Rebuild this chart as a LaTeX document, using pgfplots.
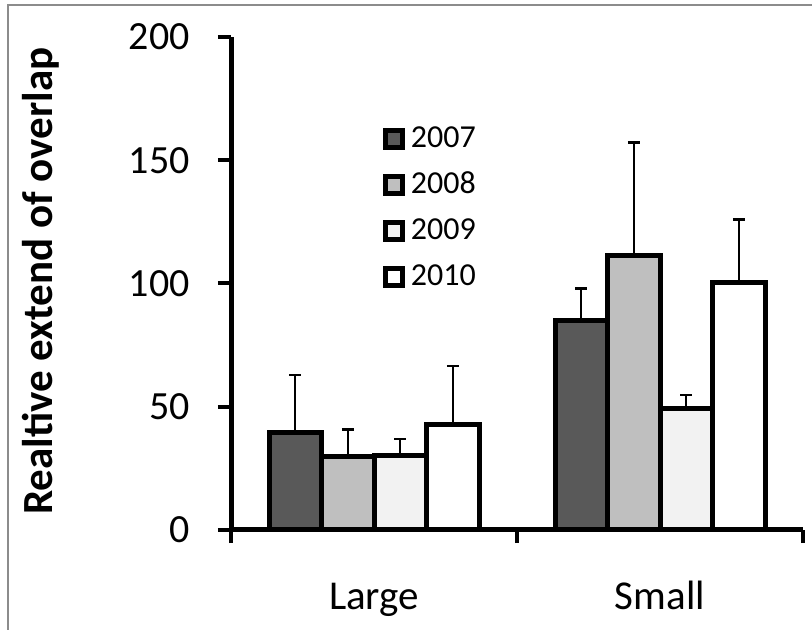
\documentclass[border=0pt]{standalone}
\usepackage{pgfplots}
\pgfplotsset{compat=1.18}
\usepackage{fontspec}
\setmainfont{Carlito}
\definecolor{c2007}{HTML}{595959}
\definecolor{c2008}{HTML}{BFBFBF}
\definecolor{c2009}{HTML}{F2F2F2}
\definecolor{c2010}{HTML}{FFFFFF}
\definecolor{framegray}{HTML}{8C8C8C}
\begin{document}
\begin{tikzpicture}
\useasboundingbox (0,0) rectangle (406pt,315pt);
\draw[framegray, line width=1pt] (4pt,-10pt) -- (4pt,312.5pt) -- (420pt,312.5pt);
\begin{axis}[
  at={(115.5pt,50pt)}, anchor=south west,
  scale only axis, width=286pt, height=246.5pt,
  xmin=-0.5, xmax=1.5, ymin=0, ymax=200,
  clip=false,
  axis x line=bottom, axis y line=left,
  axis line style={-, line width=2.5pt, black},
  /pgf/number format/assume math mode=true,
  ybar=0pt, bar width=26.25pt,
  tick align=outside, major tick length=6.5pt,
  tick style={line width=2pt, black},
  ytick={0,50,100,150,200},
  yticklabel style={font=\fontsize{20}{24}\selectfont, anchor=east, inner sep=0pt, xshift=-14pt},
  xtick={-0.5,0.5,1.5}, xticklabels={{},{},{}},
  extra x ticks={0,1}, extra x tick labels={Large,Small},
  extra x tick style={major tick length=0pt, tick style={draw=none},
     xticklabel style={font=\fontsize{20.5}{24}\selectfont, anchor=base, inner sep=0pt, yshift=-40pt}},
  ylabel={Realtive extend of overlap},
  ylabel style={at={(axis description cs:-0.3112,0.505)}, anchor=base, font=\bfseries\fontsize{21.5}{25}\selectfont},
  legend style={at={(axis description cs:0.2657,0.8195)}, anchor=north west, draw=none, fill=none,
     inner sep=0pt, row sep=11pt, font=\fontsize{16}{19}\selectfont,
     nodes={inner sep=0pt, text height=10.5pt, text depth=0.5pt}},
  legend cell align=left,
  legend image code/.code={\draw[#1, line width=2.5pt] (1.25pt,-5.25pt) rectangle (9.75pt,3.25pt); \path (12.5pt,0pt);},
  error bars/error bar style={line width=1.1pt, draw=black, solid},
  error bars/error mark options={rotate=90, mark size=3pt, line width=1.1pt, draw=black},
]
\addplot[fill=c2007, draw=black, line width=2.5pt, error bars/.cd, y dir=plus, y explicit]
  coordinates {(0,39.4) +- (0,23.4) (1,85.1) +- (0,12.9)};
\addplot[fill=c2008, draw=black, line width=2.5pt, error bars/.cd, y dir=plus, y explicit]
  coordinates {(0,29.7) +- (0,11.1) (1,111.5) +- (0,45.7)};
\addplot[fill=c2009, draw=black, line width=2.5pt, error bars/.cd, y dir=plus, y explicit]
  coordinates {(0,30.4) +- (0,6.6) (1,49.2) +- (0,5.5)};
\addplot[fill=c2010, draw=black, line width=2.5pt, error bars/.cd, y dir=plus, y explicit]
  coordinates {(0,43.0) +- (0,23.5) (1,100.4) +- (0,25.6)};
\legend{2007,2008,2009,2010}
\end{axis}
\end{tikzpicture}
\end{document}
